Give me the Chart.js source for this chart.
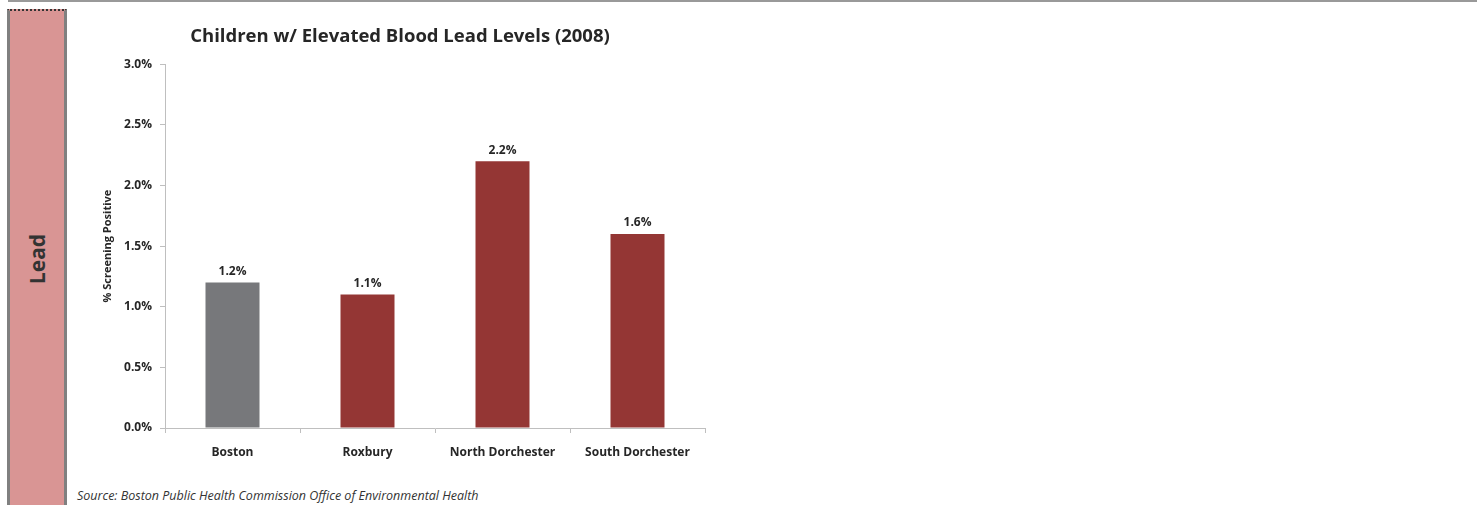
<!DOCTYPE html>
<html lang="en">
<head>
  <meta charset="UTF-8"/>
  <title>Children w/ Elevated Blood Lead Levels (2008)</title>
  <script src="https://cdn.jsdelivr.net/npm/chart.js"></script>
  <style>
    body { margin: 0; width: 1477px; height: 505px; background: #fff; position: relative; overflow: hidden; font-family: 'Open Sans', sans-serif; }
    .topline { position: absolute; left: 8px; right: 0; top: 0; height: 2px; background: #999; }
    .side { position: absolute; left: 7px; top: 9px; width: 54px; height: 495px; background: #d99594;
            border-left: 3px solid #808080; border-right: 3px solid #808080;
            border-top: 2px dotted #333; border-bottom: 2px dotted #333; }
    .side span { position: absolute; left: 50%; top: 248px; transform: translate(-50%, -50%) rotate(-90deg);
                 font-weight: bold; font-size: 21px; color: #333; white-space: nowrap; }
    .source { position: absolute; left: 77px; top: 487px; font-size: 12.5px; font-style: italic; color: #333; }
    #wrap { position: absolute; left: 70px; top: 10px; width: 660px; height: 470px; }
  </style>
</head>
<body>
  <div class="topline"></div>
  <div class="side"><span>Lead</span></div>
  <div id="wrap"><canvas id="chart"></canvas></div>
  <div class="source">Source: Boston Public Health Commission Office of Environmental Health</div>

  <script>
    const categories = ['Boston', 'Roxbury', 'North Dorchester', 'South Dorchester'];
    const values = [1.2, 1.1, 2.2, 1.6];
    const barColors = ['#77787b', '#943634', '#943634', '#943634'];
    const yTicks = [0, 0.5, 1.0, 1.5, 2.0, 2.5, 3.0];

    const FONT = "'Open Sans', sans-serif";

    // value labels above the bars
    const valueLabels = {
      id: 'valueLabels',
      afterDatasetsDraw(chart) {
        const ctx = chart.ctx;
        const meta = chart.getDatasetMeta(0);
        ctx.save();
        ctx.font = 'bold 12px ' + FONT;
        ctx.fillStyle = '#262626';
        ctx.textAlign = 'center';
        ctx.textBaseline = 'bottom';
        meta.data.forEach((bar, i) => {
          ctx.fillText(values[i].toFixed(1) + '%', bar.x, bar.y - 5);
        });
        ctx.restore();
      }
    };

    new Chart(document.getElementById('chart'), {
      type: 'bar',
      data: {
        labels: categories,
        datasets: [{
          data: values,
          backgroundColor: barColors,
          barPercentage: 0.4,
          categoryPercentage: 1.0
        }]
      },
      options: {
        responsive: true,
        maintainAspectRatio: false,
        animation: false,
        // left/right padding equal so the title centres at page x ~400
        layout: { padding: { left: 25, right: 25, top: 0, bottom: 0 } },
        plugins: {
          legend: { display: false },
          tooltip: { enabled: false },
          title: {
            display: true,
            text: 'Children w/ Elevated Blood Lead Levels (2008)',
            color: '#262626',
            font: { family: FONT, size: 18.5, weight: 'bold', lineHeight: 1.2 },
            padding: { top: 16, bottom: 16 }
          }
        },
        scales: {
          x: {
            grid: { drawOnChartArea: false, tickLength: 5, color: '#bfbfbf', offset: true },
            border: { color: '#bfbfbf' },
            ticks: { color: '#262626', padding: 12, font: { family: FONT, size: 12, weight: 'bold' } },
            afterFit(scale) { scale.height = 52; }
          },
          y: {
            min: 0,
            max: 3,
            afterBuildTicks(scale) { scale.ticks = yTicks.map(v => ({ value: v })); },
            grid: { drawOnChartArea: false, tickLength: 5, color: '#bfbfbf' },
            border: { color: '#bfbfbf' },
            ticks: {
              color: '#262626',
              padding: 8,
              font: { family: FONT, size: 12, weight: 'bold' },
              callback: v => v.toFixed(1) + '%'
            },
            title: {
              display: true,
              text: '% Screening Positive',
              color: '#262626',
              font: { family: FONT, size: 11, weight: 'bold', lineHeight: 1.2 },
              padding: { top: 6, bottom: 0 }
            },
            afterFit(scale) { scale.width = 70; }
          }
        }
      },
      plugins: [valueLabels]
    });
  </script>
</body>
</html>
